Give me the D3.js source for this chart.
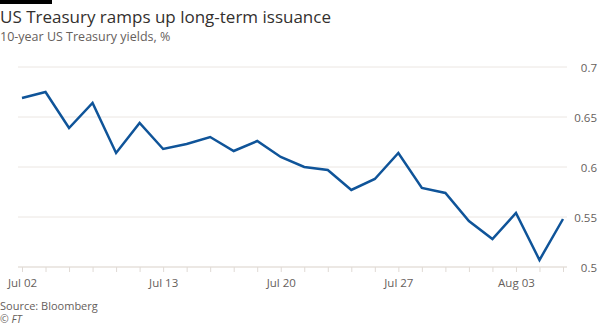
<!DOCTYPE html>
<html>
<head>
<meta charset="utf-8">
<script src="https://cdn.jsdelivr.net/npm/d3@7/dist/d3.min.js"></script>
<style>
  html, body { margin: 0; padding: 0; background: #ffffff; }
  svg { display: block; font-family: "Open Sans", sans-serif; }
</style>
</head>
<body>
<svg id="chart" width="602" height="326"></svg>
<script>
// 10-year US Treasury yields (%), trading days Jul 02 – Aug 05
const dates = [
  "2020-07-02", "2020-07-06", "2020-07-07", "2020-07-08", "2020-07-09", "2020-07-10",
  "2020-07-13", "2020-07-14", "2020-07-15", "2020-07-16", "2020-07-17",
  "2020-07-20", "2020-07-21", "2020-07-22", "2020-07-23", "2020-07-24",
  "2020-07-27", "2020-07-28", "2020-07-29", "2020-07-30", "2020-07-31",
  "2020-08-03", "2020-08-04", "2020-08-05"
];
const yields = [
  0.669, 0.675, 0.639, 0.664, 0.614, 0.644,
  0.618, 0.623, 0.630, 0.616, 0.626,
  0.610, 0.600, 0.597, 0.577, 0.588,
  0.614, 0.579, 0.574, 0.546, 0.528,
  0.554, 0.507, 0.548
];
const labelledDates = ["2020-07-02", "2020-07-13", "2020-07-20", "2020-07-27", "2020-08-03"];
const yTicks = [0.5, 0.55, 0.6, 0.65, 0.7];

const svg = d3.select("#chart");
const parse = d3.timeParse("%Y-%m-%d");
const fmtDate = d3.timeFormat("%b %d");
const FONT = "'Open Sans', sans-serif";

const plot = { left: 18, right: 567, top: 67, bottom: 267 };

const x = d3.scalePoint()
  .domain(dates)
  .range([22, 563]);

const y = d3.scaleLinear()
  .domain([0.5, 0.7])
  .range([plot.bottom, plot.top]);

// top accent bar
svg.append("rect").attr("x", 0).attr("y", 0).attr("width", 52).attr("height", 4).attr("fill", "#000000");

// titles
svg.append("text").attr("x", 0).attr("y", 23)
  .attr("font-size", 17).attr("fill", "#33302e")
  .text("US Treasury ramps up long-term issuance");
svg.append("text").attr("x", 0).attr("y", 41)
  .attr("font-size", 12.5).attr("fill", "#66605c")
  .text("10-year US Treasury yields, %");

// horizontal gridlines
svg.append("g").selectAll("line")
  .data(yTicks.filter(d => d !== 0.5))
  .join("line")
  .attr("x1", plot.left).attr("x2", plot.right)
  .attr("y1", d => y(d)).attr("y2", d => y(d))
  .attr("stroke", "#ebe6e2").attr("stroke-width", 1);

// y-axis labels on the right
const yAxis = d3.axisRight(y).tickValues(yTicks).tickSize(0).tickFormat(d3.format("~g"));
const gy = svg.append("g").attr("transform", `translate(597,0)`).call(yAxis);
gy.select(".domain").remove();
gy.selectAll("text")
  .attr("x", 0).attr("text-anchor", "end").attr("dy", "0.35em")
  .attr("font-size", 11.5).attr("fill", "#66605c")
  .attr("font-family", FONT);

// x-axis baseline and ticks
svg.append("line")
  .attr("x1", plot.left).attr("x2", plot.right)
  .attr("y1", plot.bottom).attr("y2", plot.bottom)
  .attr("stroke", "#e6e0db").attr("stroke-width", 1.5);

const xAxis = d3.axisBottom(x)
  .tickSize(5)
  .tickFormat(d => labelledDates.includes(d) ? fmtDate(parse(d)) : "");
const gx = svg.append("g").attr("transform", `translate(0,${plot.bottom})`).call(xAxis);
gx.select(".domain").remove();
gx.selectAll(".tick line").attr("stroke", "#e0dad5").attr("stroke-width", 1);
gx.selectAll("text")
  .attr("y", 12).attr("dy", "0.71em")
  .attr("font-size", 11.5).attr("fill", "#66605c")
  .attr("font-family", FONT);

// yield line
const line = d3.line()
  .x((d, i) => x(dates[i]))
  .y(d => y(d));
svg.append("path")
  .datum(yields)
  .attr("d", line)
  .attr("fill", "none")
  .attr("stroke", "#0f5499")
  .attr("stroke-width", 2.5)
  .attr("stroke-linejoin", "miter");

// source and credit
svg.append("text").attr("x", 0).attr("y", 310)
  .attr("font-size", 11).attr("fill", "#66605c")
  .text("Source: Bloomberg");
svg.append("text").attr("x", 0).attr("y", 323)
  .attr("font-size", 10.5).attr("font-style", "italic").attr("fill", "#66605c")
  .text("© FT");
</script>
</body>
</html>
